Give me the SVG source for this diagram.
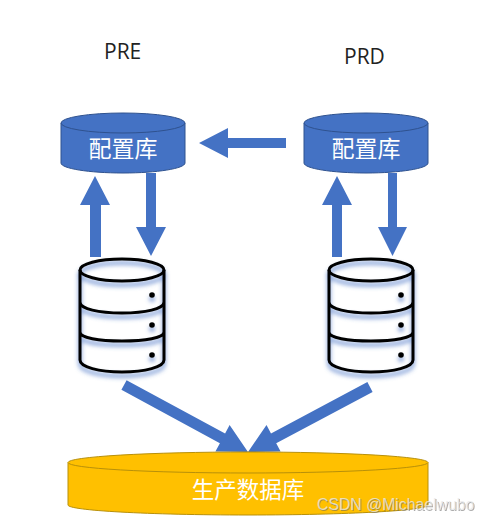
<svg xmlns="http://www.w3.org/2000/svg" width="491" height="520" viewBox="0 0 491 520">
<style>
.arrow{fill:#4472c4}
.cylblue{fill:#4472c4;stroke:#2f528f;stroke-width:1}
.cylyellow{fill:#ffc000;stroke:#b8900a;stroke-width:1}
.cn{font-family:"Noto Sans CJK SC","Noto Sans",sans-serif;fill:#fff;text-anchor:middle}
.label{font-family:"Open Sans","Noto Sans",sans-serif;font-size:21px;fill:#222}
.dbline{fill:none;stroke:#000;stroke-width:3}
.dbglow{fill:none;stroke:#4472c4;stroke-width:4;opacity:.6}
.dbdot{fill:#000}
.dbdotglow{fill:#4472c4;opacity:.6}
</style>
<defs>
<filter id="blur" x="-20%" y="-20%" width="140%" height="140%"><feGaussianBlur stdDeviation="2.2"/></filter>
<g id="dbicon">
<g filter="url(#blur)" transform="translate(0,4)">
<ellipse class="dbglow" cx="0" cy="0" rx="42" ry="11"/>
<path class="dbglow" d="M-42 0V90C-42 97 -23 102 0 102S42 97 42 90V0M-42 32C-42 39 -23 43 0 43S42 39 42 32M-42 62C-42 68 -23 71 0 71S42 68 42 62"/>
<circle class="dbdotglow" cx="30" cy="25" r="3"/><circle class="dbdotglow" cx="30" cy="55" r="3"/><circle class="dbdotglow" cx="30" cy="85" r="3"/>
</g>
<ellipse class="dbline" cx="0" cy="0" rx="42" ry="11"/>
<path class="dbline" d="M-42 0V90C-42 97 -23 102 0 102S42 97 42 90V0M-42 32C-42 39 -23 43 0 43S42 39 42 32M-42 62C-42 68 -23 71 0 71S42 68 42 62"/>
<circle class="dbdot" cx="30" cy="25" r="2.8"/><circle class="dbdot" cx="30" cy="55" r="2.8"/><circle class="dbdot" cx="30" cy="85" r="2.8"/>
</g>
</defs>
<rect width="491" height="520" fill="#fff"/>
<g id="connectors">
<polygon class="arrow" points="95,176 110,205 101,205 101,257 90,257 90,205 80,205"/>
<polygon class="arrow" points="151,256 166,227 156,227 156,173 146,173 146,227 136,227"/>
<polygon class="arrow" points="337,176 352,205 342,205 342,257 332,257 332,205 322,205"/>
<polygon class="arrow" points="392.500,256 407,227 397,227 397,173 388,173 388,227 378,227"/>
<polygon class="arrow" points="199,143 228,128 228,138 286,138 286,148 228,148 228,158"/>
<polygon class="arrow" points="248,452 215.400,451.500 219.900,443.150 121.400,389.850 126.600,380.150 225.100,433.450 229.600,425.100"/>
<polygon class="arrow" points="248,452 280.600,451.500 276.200,443.200 372.600,391.900 367.400,382.100 271,433.400 266.500,425"/>
</g>
<g id="node-pre-label"><text class="label" x="104" y="59">PRE</text></g>
<g id="node-prd-label"><text class="label" x="344" y="64">PRD</text></g>
<g id="node-config-pre">
<path class="cylblue" d="M61 123V163C61 168.500 89 173 123 173S185 168.500 185 163V123"/>
<ellipse class="cylblue" cx="123" cy="123" rx="62" ry="10"/>
<text class="cn" x="123" y="157" font-size="23">配置库</text>
</g>
<g id="node-config-prd">
<path class="cylblue" d="M304 123V163C304 168.500 332 173 366 173S428 168.500 428 163V123"/>
<ellipse class="cylblue" cx="366" cy="123" rx="62" ry="10"/>
<text class="cn" x="366" y="157" font-size="23">配置库</text>
</g>
<g id="node-db-pre"><use href="#dbicon" x="122" y="270"/></g>
<g id="node-db-prd"><use href="#dbicon" x="371" y="270"/></g>
<g id="node-prod-db">
<path class="cylyellow" d="M68 462.500V505C68 510.500 149 515 248 515S428 510.500 428 505V462.500"/>
<ellipse class="cylyellow" cx="248" cy="462.500" rx="180" ry="10.500"/>
<text class="cn" x="248" y="498" font-size="22.500">生产数据库</text>
</g>
<g id="watermark">
<text x="317" y="510" font-family="'Liberation Sans',sans-serif" font-size="15.800" fill="#666" opacity=".55" dx="0.800" dy="0.800">CSDN @Michaelwubo</text>
<text x="317" y="510" font-family="'Liberation Sans',sans-serif" font-size="15.800" fill="#e8e8e8" fill-opacity=".8">CSDN @Michaelwubo</text>
</g>
</svg>
